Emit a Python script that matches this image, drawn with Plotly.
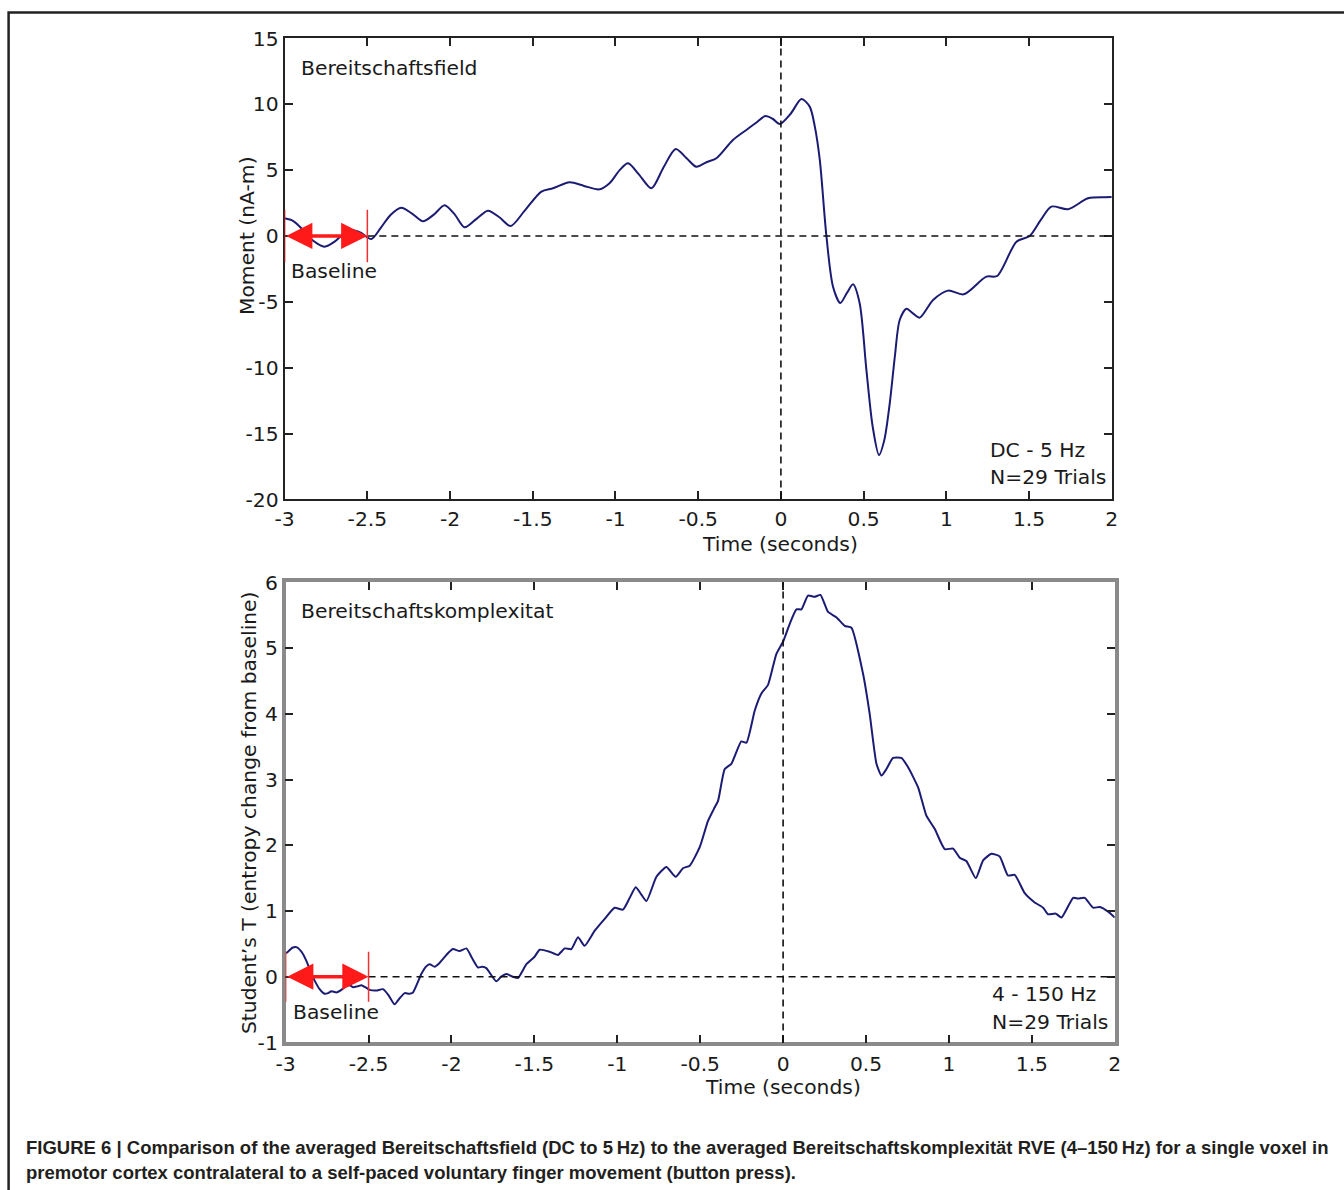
import plotly.graph_objects as go

# Figure canvas (slightly larger than the target picture; the rendered page is
# mapped to the picture as  pic = OFF + S * fig  so positions are pre-compensated)
W, H = 1350, 1200
OFF_X, OFF_Y = 10.4, 11.6
S_X, S_Y = 0.988, 0.980

# ---------------- data ----------------
t_field = [-3.0, -2.95, -2.90, -2.86, -2.80, -2.758, -2.70, -2.64, -2.597, -2.54, -2.476,
           -2.42, -2.36, -2.295, -2.23, -2.164, -2.10, -2.033, -1.97, -1.912, -1.84, -1.771,
           -1.70, -1.634, -1.55, -1.448, -1.378, -1.277, -1.19, -1.096, -1.036, -0.975,
           -0.924, -0.86, -0.783, -0.71, -0.636, -0.57, -0.511, -0.45, -0.39, -0.29, -0.209,
           -0.15, -0.094, -0.05, -0.007, 0.06, 0.124, 0.174, 0.205, 0.235, 0.275, 0.315,
           0.359, 0.40, 0.436, 0.476, 0.517, 0.555, 0.593, 0.625, 0.658, 0.69, 0.718, 0.759,
           0.80, 0.839, 0.92, 1.01, 1.105, 1.242, 1.307, 1.424, 1.504, 1.57, 1.635, 1.736,
           1.857, 1.958, 2.0]
v_field = [1.34, 1.15, 0.6, 0.0, -0.6, -0.81, -0.45, 0.2, 0.46, 0.25, -0.23,
           0.6, 1.6, 2.15, 1.7, 1.11, 1.6, 2.33, 1.6, 0.66, 1.3, 1.92,
           1.4, 0.76, 1.9, 3.37, 3.62, 4.07, 3.8, 3.54, 4.0, 5.0,
           5.52, 4.7, 3.62, 5.2, 6.61, 5.9, 5.25, 5.6, 5.9, 7.29, 8.05,
           8.6, 9.11, 8.9, 8.5, 9.3, 10.4, 9.82, 8.3, 5.77, 0.0, -3.85,
           -5.09, -4.3, -3.67, -5.11, -10.2, -14.5, -16.63, -15.5, -12.7, -9.0, -6.38, -5.52,
           -5.9, -6.2, -4.86, -4.15, -4.43, -3.09, -3.04, -0.43, 0.0, 1.2, 2.23, 2.03,
           2.86, 2.94, 2.95]

t_cplx = [-3.0, -2.99, -2.96, -2.935, -2.905, -2.875, -2.85, -2.825, -2.795, -2.765, -2.744,
          -2.724, -2.694, -2.664, -2.634, -2.614, -2.594, -2.57, -2.543, -2.52, -2.493,
          -2.453, -2.413, -2.38, -2.343, -2.31, -2.282, -2.255, -2.232, -2.182, -2.155,
          -2.131, -2.101, -2.075, -2.051, -2.02, -1.991, -1.951, -1.91, -1.875, -1.84,
          -1.815, -1.79, -1.73, -1.70, -1.669, -1.63, -1.599, -1.548, -1.50, -1.468,
          -1.408, -1.358, -1.317, -1.277, -1.237, -1.197, -1.136, -1.076, -1.016, -0.966,
          -0.925, -0.889, -0.855, -0.824, -0.764, -0.704, -0.648, -0.604, -0.563, -0.503,
          -0.453, -0.418, -0.392, -0.352, -0.312, -0.252, -0.221, -0.171, -0.131, -0.091,
          -0.041, 0.0, 0.04, 0.08, 0.11, 0.15, 0.19, 0.225, 0.271, 0.321, 0.371, 0.412,
          0.482, 0.522, 0.563, 0.593, 0.623, 0.663, 0.713, 0.753, 0.814, 0.864, 0.914,
          0.975, 1.025, 1.065, 1.105, 1.162, 1.206, 1.256, 1.306, 1.356, 1.397, 1.457,
          1.517, 1.568, 1.598, 1.644, 1.679, 1.749, 1.779, 1.819, 1.869, 1.91, 1.96, 2.0]
v_cplx = [0.36, 0.37, 0.44, 0.45, 0.38, 0.24, 0.08, -0.06, -0.19, -0.26, -0.25,
          -0.22, -0.24, -0.2, -0.14, -0.13, -0.16, -0.15, -0.13, -0.16, -0.2,
          -0.21, -0.19, -0.28, -0.42, -0.32, -0.25, -0.26, -0.24, 0.04, 0.15,
          0.19, 0.15, 0.2, 0.27, 0.36, 0.42, 0.39, 0.43, 0.28, 0.14,
          0.15, 0.13, -0.07, 0.0, 0.04, 0.0, -0.02, 0.19, 0.3, 0.41,
          0.38, 0.33, 0.43, 0.42, 0.6, 0.47, 0.7, 0.88, 1.05, 1.02,
          1.2, 1.36, 1.25, 1.15, 1.52, 1.67, 1.52, 1.65, 1.69, 1.97,
          2.37, 2.55, 2.68, 3.16, 3.24, 3.58, 3.56, 4.05, 4.31, 4.44,
          4.91, 5.1, 5.37, 5.59, 5.59, 5.8, 5.78, 5.81, 5.55, 5.47, 5.34, 5.31,
          4.61, 4.0, 3.24, 3.06, 3.16, 3.33, 3.33, 3.19, 2.88, 2.45, 2.25,
          1.94, 1.95, 1.81, 1.76, 1.50, 1.77, 1.87, 1.83, 1.54, 1.55, 1.27,
          1.13, 1.05, 0.95, 0.96, 0.90, 1.20, 1.19, 1.20, 1.05, 1.06, 0.99, 0.9]

x_ticks = [-3, -2.5, -2, -1.5, -1, -0.5, 0, 0.5, 1, 1.5, 2]
x_ticklabels = ["-3", "-2.5", "-2", "-1.5", "-1", "-0.5", "0", "0.5", "1", "1.5", "2"]
y1_ticks = [-20, -15, -10, -5, 0, 5, 10, 15]
y1_ticklabels = ["-20", "-15", "-10", "-5", "0", "5", "10", "15"]
y2_ticks = [-1, 0, 1, 2, 3, 4, 5, 6]
y2_ticklabels = ["-1", "0", "1", "2", "3", "4", "5", "6"]
baseline_start, baseline_end = -3.0, -2.5

# ---------------- helpers (picture pixel -> paper) ----------------
def px(x):
    return ((x - OFF_X) / S_X) / W

def py(y):
    return 1 - ((y - OFF_Y) / S_Y) / H

FONT = "DejaVu Sans"
FS = 20.3
NAVY = "#1b1b74"
TXT = "#1a1a1a"

fig = go.Figure()
fig.add_trace(go.Scatter(x=t_field, y=v_field, mode="lines", xaxis="x", yaxis="y",
                         line=dict(color=NAVY, width=2, shape="spline", smoothing=0.8),
                         showlegend=False, hoverinfo="skip"))
fig.add_trace(go.Scatter(x=t_cplx, y=v_cplx, mode="lines", xaxis="x2", yaxis="y2",
                         line=dict(color=NAVY, width=2, shape="spline", smoothing=0.5),
                         showlegend=False, hoverinfo="skip"))

axis_common = dict(showgrid=False, zeroline=False, showline=True, mirror="ticks",
                   ticks="inside", ticklen=8, tickwidth=1.5, tickcolor="#222",
                   tickfont=dict(family=FONT, size=FS, color=TXT))

fig.update_layout(
    width=W, height=H,
    margin=dict(l=0, r=0, t=0, b=0),
    paper_bgcolor="white", plot_bgcolor="white",
    showlegend=False,
    xaxis=dict(domain=[px(285), px(1112)], anchor="y", range=[-3, 2],
               tickvals=x_ticks, ticktext=x_ticklabels,
               linecolor="#222", linewidth=2, **axis_common),
    yaxis=dict(domain=[py(499), py(38)], anchor="x", range=[-20, 15],
               tickvals=y1_ticks, ticktext=y1_ticklabels,
               linecolor="#222", linewidth=2, **axis_common),
    xaxis2=dict(domain=[px(286), px(1115)], anchor="y2", range=[-3, 2],
                tickvals=x_ticks, ticktext=x_ticklabels,
                linecolor="#8a8a8a", linewidth=3.5, **axis_common),
    yaxis2=dict(domain=[py(1042), py(582)], anchor="x2", range=[-1, 6],
                tickvals=y2_ticks, ticktext=y2_ticklabels,
                linecolor="#8a8a8a", linewidth=3.5, **axis_common),
)

shapes = []
# outer figure border (extends past the right and bottom edges)
shapes.append(dict(type="rect", xref="paper", yref="paper",
                   x0=px(9), x1=px(1380), y0=py(1240), y1=py(12),
                   line=dict(color="#222", width=2.5), layer="below"))

dash = "7px,5px"
for xa, ya, yr, lo, hi in [("x", "y", (-20, 15), -2.0, 2.0), ("x2", "y2", (-1, 6), -0.38, 0.38)]:
    # zero line
    shapes.append(dict(type="line", xref=xa, yref=ya, x0=baseline_end, x1=2, y0=0, y1=0,
                       line=dict(color="#111", width=1.6, dash=dash)))
    # movement onset line
    shapes.append(dict(type="line", xref=xa, yref=ya, x0=0, x1=0, y0=yr[0], y1=yr[1],
                       line=dict(color="#111", width=1.6, dash=dash)))
    # baseline markers
    for bx in (baseline_start, baseline_end):
        shapes.append(dict(type="line", xref=xa, yref=ya, x0=bx, x1=bx, y0=lo, y1=hi,
                           line=dict(color="#f03030", width=1.5)))
fig.update_layout(shapes=shapes)

ann = []
def txt(text, x, y, xref, yref, size=FS, xanchor="left", yanchor="middle", angle=0,
        family=FONT, color=TXT):
    ann.append(dict(text=text, x=x, y=y, xref=xref, yref=yref, showarrow=False,
                    xanchor=xanchor, yanchor=yanchor, textangle=angle,
                    font=dict(family=family, size=size, color=color)))

# baseline arrows
for xa, ya in [("x", "y"), ("x2", "y2")]:
    ann.append(dict(x=baseline_end, y=0, ax=baseline_start, ay=0, xref=xa, yref=ya,
                    axref=xa, ayref=ya, text="", showarrow=True, arrowside="end+start",
                    arrowhead=2, startarrowhead=2, arrowsize=1.5, startarrowsize=1.5,
                    arrowwidth=3.5, arrowcolor="#ff1a1a"))

# top panel texts
txt("Bereitschaftsfield", -2.915, 12.76, "x", "y")
txt("Baseline", -2.976, -2.66, "x", "y")
txt("DC - 5 Hz", 1.25, -16.25, "x", "y")
txt("N=29 Trials", 1.25, -18.3, "x", "y")
# bottom panel texts
txt("Bereitschaftskomplexitat", -2.92, 5.56, "x2", "y2")
txt("Baseline", -2.97, -0.53, "x2", "y2")
txt("4 - 150 Hz", 1.246, -0.27, "x2", "y2")
txt("N=29 Trials", 1.246, -0.69, "x2", "y2")

# axis titles
txt("Moment (nA-m)", px(248), py(235), "paper", "paper", xanchor="center", angle=-90)
txt("Time (seconds)", px(780), py(544), "paper", "paper", xanchor="center")
txt("Student\u2019s T (entropy change from baseline)", px(250), py(812), "paper", "paper",
    xanchor="center", angle=-90)
txt("Time (seconds)", px(783), py(1087), "paper", "paper", xanchor="center")

# caption
CAP = "Liberation Sans, Arial, Helvetica, sans-serif"
txt("<b>FIGURE 6 | Comparison of the averaged Bereitschaftsfield (DC to 5\u2009Hz) to the averaged "
    "Bereitschaftskomplexit\u00e4t RVE (4\u2013150\u2009Hz) for a single voxel in</b>",
    px(24), py(1147), "paper", "paper", size=18.5, family=CAP, color="#231f20")
txt("<b>premotor cortex contralateral to a self-paced voluntary finger movement (button press).</b>",
    px(24), py(1172), "paper", "paper", size=18.5, family=CAP, color="#231f20")

fig.update_layout(annotations=ann)

fig.write_html("out.html")
